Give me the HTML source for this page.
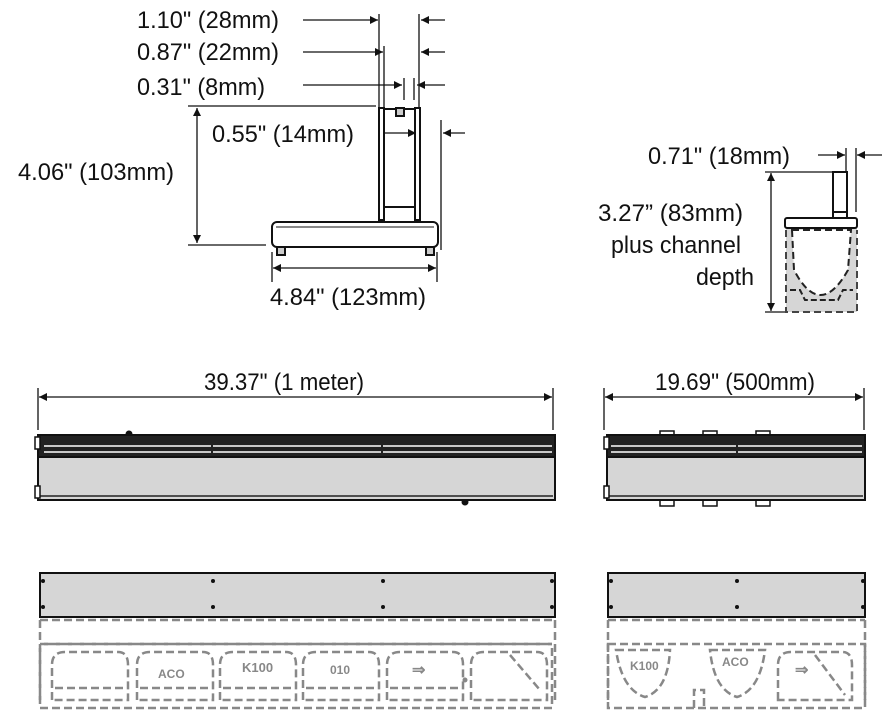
<!DOCTYPE html>
<html><head><meta charset="utf-8"><style>
html,body{margin:0;padding:0;background:#fff;}
svg{display:block;}
text{font-family:"Liberation Sans Narrow","Liberation Sans",sans-serif;font-size:24px;fill:#111;}
</style></head><body>
<svg width="896" height="728" viewBox="0 0 896 728" xmlns="http://www.w3.org/2000/svg">
<defs>
<marker id="a" viewBox="0 0 10 10" refX="10" refY="5" markerWidth="14" markerHeight="8" markerUnits="userSpaceOnUse" orient="auto-start-reverse"><path d="M0,0L10,5L0,10z" fill="#111"/></marker>
</defs>
<g stroke="#111" stroke-width="1.3" fill="none">
<line x1="303" y1="20" x2="378" y2="20" marker-end="url(#a)"/>
<line x1="445" y1="20" x2="421" y2="20" marker-end="url(#a)"/>
<line x1="303" y1="52" x2="383" y2="52" marker-end="url(#a)"/>
<line x1="445" y1="52" x2="421" y2="52" marker-end="url(#a)"/>
<line x1="303" y1="85" x2="402" y2="85" marker-end="url(#a)"/>
<line x1="445" y1="85" x2="417" y2="85" marker-end="url(#a)"/>
<line x1="379" y1="14" x2="379" y2="108"/>
<line x1="384" y1="46" x2="384" y2="108"/>
<line x1="404" y1="78" x2="404" y2="100"/>
<line x1="414" y1="78" x2="414" y2="100"/>
<line x1="419" y1="14" x2="419" y2="108"/>
<line x1="188" y1="106" x2="376" y2="106"/>
<line x1="197" y1="108" x2="197" y2="243" marker-start="url(#a)" marker-end="url(#a)"/>
<line x1="188" y1="245" x2="266" y2="245"/>
<line x1="378" y1="133" x2="416" y2="133" marker-end="url(#a)"/>
<line x1="441" y1="120" x2="441" y2="250"/>
<line x1="465" y1="133" x2="443" y2="133" marker-end="url(#a)"/>
<line x1="272" y1="252" x2="272" y2="282"/>
<line x1="437" y1="252" x2="437" y2="282"/>
<line x1="273" y1="268" x2="436" y2="268" marker-start="url(#a)" marker-end="url(#a)"/>
</g>
<g stroke="#111" stroke-width="2" fill="#fff">
<rect x="379" y="108" width="5" height="112"/>
<rect x="415" y="108" width="5" height="112"/>
<line x1="384" y1="109" x2="415" y2="109"/>
<line x1="384" y1="207" x2="415" y2="207"/>
<rect x="396" y="108" width="8" height="8" fill="#ccc"/>
<rect x="272" y="222" width="166" height="25" rx="5"/>
<line x1="276" y1="227" x2="434" y2="227" stroke-width="1"/>
<rect x="277" y="247" width="8" height="8" fill="#ccc"/>
<rect x="426" y="247" width="8" height="8" fill="#ccc"/>
</g>
<text x="137" y="28" textLength="142" lengthAdjust="spacingAndGlyphs">1.10" (28mm)</text>
<text x="137" y="60" textLength="142" lengthAdjust="spacingAndGlyphs">0.87" (22mm)</text>
<text x="137" y="95" textLength="128" lengthAdjust="spacingAndGlyphs">0.31" (8mm)</text>
<text x="212" y="142" textLength="142" lengthAdjust="spacingAndGlyphs">0.55" (14mm)</text>
<text x="18" y="180" textLength="156" lengthAdjust="spacingAndGlyphs">4.06" (103mm)</text>
<text x="270" y="305" textLength="156" lengthAdjust="spacingAndGlyphs">4.84" (123mm)</text>

<g stroke="#111" stroke-width="1.3" fill="none">
<line x1="818" y1="155" x2="845" y2="155" marker-end="url(#a)"/>
<line x1="882" y1="155" x2="857" y2="155" marker-end="url(#a)"/>
<line x1="846" y1="148" x2="846" y2="172"/>
<line x1="856" y1="148" x2="856" y2="212"/>
<line x1="765" y1="172" x2="832" y2="172"/>
<line x1="771" y1="173" x2="771" y2="311" marker-start="url(#a)" marker-end="url(#a)"/>
<line x1="765" y1="312" x2="785" y2="312"/>
</g>
<path d="M786,228 L786,312 L857,312 L857,228 Z" fill="#d6d6d6" stroke="none"/>
<path d="M792,230 L794,270 Q820,320 848,270 L851,230 Z" fill="#fff" stroke="#222" stroke-width="2" stroke-dasharray="7 4"/>
<path d="M786,230 L786,312 L857,312 L857,230" fill="none" stroke="#444" stroke-width="2" stroke-dasharray="7 4"/>
<path d="M790,290 L800,290 L805,300 L838,300 L843,290 L853,290" fill="none" stroke="#222" stroke-width="2" stroke-dasharray="6 3"/>
<g stroke="#111" stroke-width="2" fill="#fff">
<rect x="833" y="172" width="14" height="46"/>
<line x1="833" y1="212" x2="847" y2="212"/>
<rect x="785" y="218" width="72" height="10" rx="2"/>
</g>
<text x="648" y="164" textLength="142" lengthAdjust="spacingAndGlyphs">0.71" (18mm)</text>
<text x="598" y="221" textLength="145" lengthAdjust="spacingAndGlyphs">3.27” (83mm)</text>
<text x="611" y="253" textLength="130" lengthAdjust="spacingAndGlyphs">plus channel</text>
<text x="696" y="285" textLength="58" lengthAdjust="spacingAndGlyphs">depth</text>

<g stroke="#111" stroke-width="1.3" fill="none">
<line x1="38" y1="388" x2="38" y2="430"/>
<line x1="553" y1="388" x2="553" y2="430"/>
<line x1="39" y1="397" x2="552" y2="397" marker-start="url(#a)" marker-end="url(#a)"/>
<line x1="604" y1="388" x2="604" y2="430"/>
<line x1="864" y1="388" x2="864" y2="430"/>
<line x1="605" y1="397" x2="863" y2="397" marker-start="url(#a)" marker-end="url(#a)"/>
</g>
<text x="204" y="390" textLength="160" lengthAdjust="spacingAndGlyphs">39.37" (1 meter)</text>
<text x="655" y="390" textLength="160" lengthAdjust="spacingAndGlyphs">19.69" (500mm)</text>

<g stroke="#111" stroke-width="2">
<circle cx="129" cy="434" r="2.5" fill="#111"/>
<circle cx="465" cy="502" r="2.5" fill="#111"/>
<rect x="38" y="435" width="517" height="65" fill="#d6d6d6"/>
<rect x="38" y="435" width="517" height="22" fill="#222"/>
</g>
<g stroke="#fff" stroke-width="1.5">
<line x1="44" y1="446" x2="552" y2="446"/>
<line x1="44" y1="452" x2="552" y2="452"/>
</g>
<g stroke="#222" stroke-width="2"><line x1="212" y1="444" x2="212" y2="455"/><line x1="382" y1="444" x2="382" y2="455"/></g>
<line x1="40" y1="496" x2="553" y2="496" stroke="#222" stroke-width="1.5"/>
<rect x="35" y="437" width="5" height="12" fill="#fff" stroke="#111" stroke-width="1.5"/>
<rect x="35" y="486" width="5" height="12" fill="#fff" stroke="#111" stroke-width="1.5"/>

<g stroke="#111" stroke-width="1.5" fill="#fff">
<rect x="660" y="431" width="14" height="6"/><rect x="703" y="431" width="14" height="6"/><rect x="756" y="431" width="14" height="6"/>
<rect x="660" y="500" width="14" height="6"/><rect x="703" y="500" width="14" height="6"/><rect x="756" y="500" width="14" height="6"/>
</g>
<g stroke="#111" stroke-width="2">
<rect x="607" y="435" width="258" height="65" fill="#d6d6d6"/>
<rect x="607" y="435" width="258" height="22" fill="#222"/>
</g>
<g stroke="#fff" stroke-width="1.5">
<line x1="611" y1="446" x2="862" y2="446"/>
<line x1="611" y1="452" x2="862" y2="452"/>
</g>
<line x1="737" y1="444" x2="737" y2="455" stroke="#222" stroke-width="2"/>
<line x1="609" y1="496" x2="863" y2="496" stroke="#222" stroke-width="1.5"/>
<rect x="604" y="437" width="5" height="12" fill="#fff" stroke="#111" stroke-width="1.5"/>
<rect x="604" y="486" width="5" height="12" fill="#fff" stroke="#111" stroke-width="1.5"/>

<rect x="40" y="573" width="515" height="44" fill="#d6d6d6" stroke="#111" stroke-width="2"/>
<g fill="#111">
<circle cx="43" cy="581" r="2"/><circle cx="43" cy="607" r="2"/>
<circle cx="213" cy="581" r="2"/><circle cx="213" cy="607" r="2"/>
<circle cx="383" cy="581" r="2"/><circle cx="383" cy="607" r="2"/>
<circle cx="552" cy="581" r="2"/><circle cx="552" cy="607" r="2"/>
</g>
<rect x="608" y="573" width="257" height="44" fill="#d6d6d6" stroke="#111" stroke-width="2"/>
<g fill="#111">
<circle cx="611" cy="581" r="2"/><circle cx="611" cy="607" r="2"/>
<circle cx="737" cy="581" r="2"/><circle cx="737" cy="607" r="2"/>
<circle cx="863" cy="581" r="2"/><circle cx="863" cy="607" r="2"/>
</g>

<g fill="none" stroke="#888" stroke-width="2.5" stroke-dasharray="8 4">
<line x1="40" y1="620" x2="555" y2="620"/>
<line x1="40" y1="620" x2="40" y2="700"/>
<line x1="555" y1="620" x2="555" y2="700"/>
<line x1="44" y1="644" x2="552" y2="644"/>
<rect x="40" y="644" width="512" height="64"/>
<path d="M52,700 L52,665 Q52,652 65,652 L118,652 Q128,652 128,665 L128,700 Z"/>
<path d="M137,700 L137,665 Q137,652 150,652 L203,652 Q213,652 213,665 L213,700 Z"/>
<path d="M220,700 L220,665 Q220,652 233,652 L286,652 Q296,652 296,665 L296,700 Z"/>
<path d="M303,700 L303,665 Q303,652 316,652 L369,652 Q379,652 379,665 L379,700 Z"/>
<path d="M387,700 L387,665 Q387,652 400,652 L453,652 Q463,652 463,665 L463,700 Z"/>
<path d="M471,700 L471,665 Q471,652 484,652 L537,652 Q547,652 547,665 L547,700 Z"/>
<line x1="55" y1="688" x2="125" y2="688"/><line x1="140" y1="688" x2="210" y2="688"/>
<line x1="223" y1="688" x2="293" y2="688"/><line x1="306" y1="688" x2="376" y2="688"/>
<line x1="390" y1="688" x2="460" y2="688"/><line x1="510" y1="655" x2="540" y2="690"/>
</g>
<text x="158" y="678" style="font-size:12px;fill:#888;font-weight:bold">ACO</text>
<text x="242" y="672" style="font-size:13px;fill:#888;font-weight:bold">K100</text>
<text x="330" y="674" style="font-size:12px;fill:#888;font-weight:bold">010</text>
<text x="412" y="675" style="font-size:16px;fill:#888;font-weight:bold">⇒</text>
<circle cx="465" cy="680" r="2.5" fill="#888"/>

<g fill="none" stroke="#888" stroke-width="2.5" stroke-dasharray="8 4">
<line x1="608" y1="620" x2="865" y2="620"/>
<line x1="608" y1="620" x2="608" y2="700"/>
<line x1="865" y1="620" x2="865" y2="700"/>
<rect x="608" y="644" width="257" height="64"/>
<path d="M616,650 L670,650 Q668,690 645,697 Q622,690 616,650 Z"/>
<path d="M710,650 L765,650 Q760,690 737,697 Q714,690 710,650 Z"/>
<path d="M778,700 L778,665 Q778,652 791,652 L842,652 Q852,652 852,665 L852,700 Z"/>
<line x1="815" y1="655" x2="845" y2="695"/>
<path d="M694,708 L694,690 L704,690 L704,708"/>
</g>
<text x="630" y="670" style="font-size:12px;fill:#888;font-weight:bold">K100</text>
<text x="722" y="666" style="font-size:12px;fill:#888;font-weight:bold">ACO</text>
<text x="795" y="675" style="font-size:16px;fill:#888;font-weight:bold">⇒</text>
</svg>
</body></html>
